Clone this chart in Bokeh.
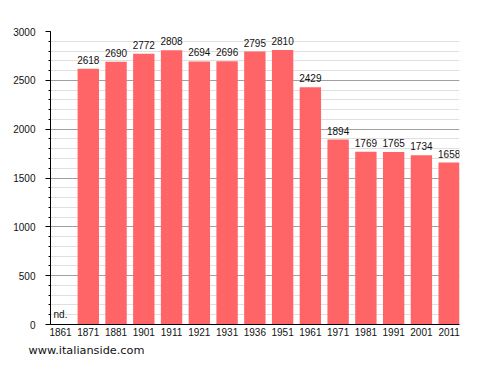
from bokeh.plotting import figure
from bokeh.models import (ColumnDataSource, Range1d, FixedTicker, SingleIntervalTicker,
                          LabelSet, Title)
from bokeh.core.properties import value
from bokeh.embed import file_html
from bokeh.resources import INLINE

years = ["1861", "1871", "1881", "1901", "1911", "1921", "1931", "1936",
         "1951", "1961", "1971", "1981", "1991", "2001", "2011"]
population = [None, 2618, 2690, 2772, 2808, 2694, 2696, 2795,
              2810, 2429, 1894, 1769, 1765, 1734, 1658]

xs = [i + 0.5 for i in range(len(years))]
tops = [v if v is not None else 0 for v in population]
labels = [str(v) if v is not None else "nd." for v in population]

src = ColumnDataSource(dict(x=xs, top=tops, label=labels))

p = figure(width=488, height=373, output_backend="svg", toolbar_location=None,
           x_range=Range1d(0.139, 14.872), y_range=Range1d(0, 3000),
           min_border_left=50, min_border_right=29, min_border_top=31,
           min_border_bottom=49)
p.outline_line_color = None
p.background_fill_color = "white"

p.vbar(x="x", top="top", width=0.77, bottom=0, source=src,
       fill_color="#FF6466", line_color=None)

p.add_layout(LabelSet(x="x", y="top", text="label", source=src,
                      text_align="center", text_baseline="bottom", y_offset=5,
                      text_font=value("Liberation Sans"), text_font_size=value("10px"),
                      text_color="#111111"))

# axes
p.xaxis.ticker = FixedTicker(ticks=xs)
p.xaxis.major_label_overrides = {x: y for x, y in zip(xs, years)}
p.xaxis.major_tick_line_color = None
p.xaxis.minor_tick_line_color = None
p.xaxis.major_tick_out = 0
p.xaxis.major_tick_in = 0
p.xaxis.minor_tick_out = 0
p.xaxis.axis_line_color = "black"
p.xaxis.major_label_standoff = 3
p.xaxis.major_label_text_font = "Liberation Sans"
p.xaxis.major_label_text_font_size = "10px"
p.xaxis.major_label_text_color = "#111111"

p.yaxis.ticker = SingleIntervalTicker(interval=500, num_minor_ticks=5)
p.yaxis.axis_line_color = "black"
p.yaxis.major_tick_out = 5
p.yaxis.major_tick_in = 0
p.yaxis.minor_tick_out = 2
p.yaxis.minor_tick_in = 0
p.yaxis.major_tick_line_color = "black"
p.yaxis.minor_tick_line_color = "black"
p.yaxis.major_label_standoff = 10
p.yaxis.major_label_text_font = "Liberation Sans"
p.yaxis.major_label_text_font_size = "10px"
p.yaxis.major_label_text_color = "#111111"

p.xgrid.grid_line_color = None
p.ygrid.grid_line_color = "#A0A0A0"
p.ygrid.minor_grid_line_color = "#E0E0E0"
p.ygrid.level = "underlay"

p.add_layout(Title(text="www.italianside.com", align="left", offset=-22,
                   standoff=6, text_font="DejaVu Sans", text_font_size="11.3px",
                   text_font_style="normal", text_color="#111111"), "below")

open("out.html", "w").write(file_html(p, INLINE))
